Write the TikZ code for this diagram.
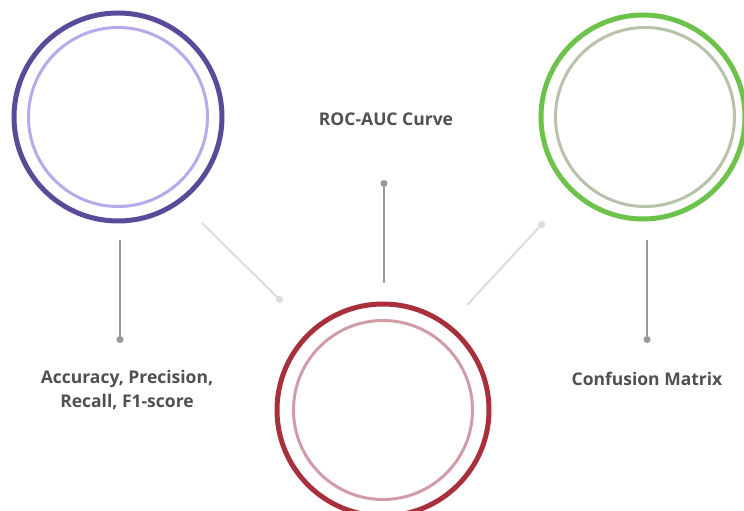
\documentclass[tikz,border=0pt]{standalone}
\usepackage{fontspec}
\setmainfont{Open Sans}
\usetikzlibrary{arrows.meta}
\definecolor{purpleout}{HTML}{5B4A9A}
\definecolor{purplein}{HTML}{B9A9EA}
\definecolor{greenout}{HTML}{6CC24A}
\definecolor{greenin}{HTML}{B6C2AA}
\definecolor{redout}{HTML}{A8303C}
\definecolor{redin}{HTML}{D29CA6}
\definecolor{stemgrey}{HTML}{9A9A9A}
\definecolor{diaggrey}{HTML}{DCDCDC}
\definecolor{labelgrey}{HTML}{505050}
\tikzset{
  ringout/.style={circle, draw, line width=5pt, inner sep=0pt, minimum size=#1},
  ringin/.style={circle, draw, line width=3pt, inner sep=0pt, minimum size=#1},
  stem/.style={draw=stemgrey, line width=2pt, -{Circle[length=7pt,width=7pt,fill=stemgrey]}},
  diag/.style={draw=diaggrey, line width=2pt, -{Circle[length=7pt,width=7pt,fill=diaggrey]}},
  lbl/.style={font=\bfseries\fontsize{17.5}{24}\selectfont, text=labelgrey, align=center, inner sep=0pt}
}
\begin{document}
\begin{tikzpicture}[x=1pt,y=1pt]
\useasboundingbox (0,0) rectangle (744,511);
% circles
\node[ringout=208pt, draw=purpleout] (pO) at (118,394) {};
\node[ringin=179pt, draw=purplein] (pI) at (118,394) {};
\node[ringout=204pt, draw=greenout] (gO) at (643,394) {};
\node[ringin=179pt, draw=greenin] (gI) at (645,394) {};
\node[ringout=212pt, draw=redout] (rO) at (383,101) {};
\node[ringin=179pt, draw=redin] (rI) at (383,101) {};
% connector ends
\coordinate (l1) at (120,271);
\coordinate (l2) at (120,168);
\coordinate (m1) at (384,228);
\coordinate (m2) at (384,331);
\coordinate (r1) at (647,271);
\coordinate (r2) at (647,168);
\coordinate (d1) at (202,288);
\coordinate (d2) at (282,209);
\coordinate (e1) at (467,206);
\coordinate (e2) at (544,289);
\draw[stem] (l1) -- (l2);
\draw[stem] (m1) -- (m2);
\draw[stem] (r1) -- (r2);
\draw[diag] (d1) -- (d2);
\draw[diag] (e1) -- (e2);
% labels
\node[lbl] (roc) at (386,392) {ROC-AUC Curve};
\node[lbl] (acc) at (127,121) {Accuracy, Precision,\\Recall, F1-score};
\node[lbl] (conf) at (647,132) {Confusion Matrix};
\end{tikzpicture}
\end{document}
